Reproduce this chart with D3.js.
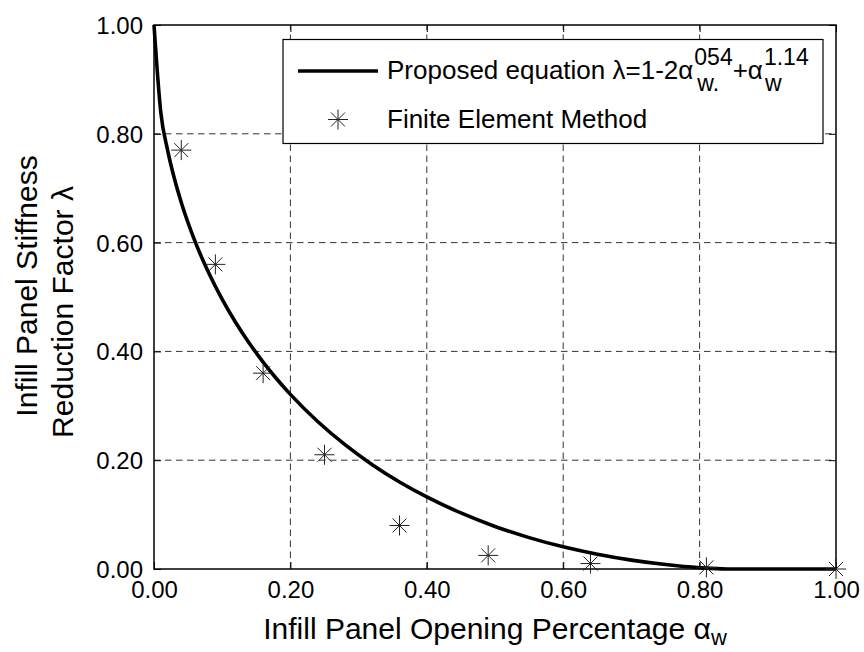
<!DOCTYPE html>
<html>
<head>
<meta charset="utf-8">
<script src="https://cdn.jsdelivr.net/npm/d3@7"></script>
<style>
  body { margin: 0; background: #fff; }
  svg { display: block; }
  text { font-family: Arial, "Liberation Sans", Helvetica, sans-serif; fill: #000; }
</style>
</head>
<body>
<svg id="chart" width="864" height="652"></svg>
<script>
// Proposed equation, sampled along the opening percentage (clamped at zero)
const alphaCurve  = [0, 0.01, 0.02, 0.03, 0.04, 0.06, 0.08, 0.10, 0.12, 0.14, 0.16, 0.18, 0.20,
                     0.24, 0.28, 0.32, 0.36, 0.40, 0.45, 0.50, 0.55, 0.60, 0.65, 0.70, 0.75,
                     0.80, 0.84, 0.90, 1.00];
const lambdaCurve = [1.0000, 0.8389, 0.7697, 0.7173, 0.6738, 0.6027, 0.5449, 0.4956, 0.4527, 0.4146, 0.3804, 0.3493, 0.3210,
                     0.2711, 0.2285, 0.1918, 0.1600, 0.1325, 0.1030, 0.0782, 0.0577, 0.0407, 0.0271, 0.0163, 0.0082,
                     0.0024, 0.0000, 0.0000, 0.0000];

// Finite element results
const alphaFem  = [0.04, 0.09, 0.16, 0.25, 0.36, 0.49, 0.64, 0.81, 1.00];
const lambdaFem = [0.77, 0.56, 0.36, 0.21, 0.08, 0.025, 0.01, 0.003, 0.00];

const xTicks = [0, 0.2, 0.4, 0.6, 0.8, 1.0];
const yTicks = [0, 0.2, 0.4, 0.6, 0.8, 1.0];

const svg = d3.select("#chart");
const L = 154, R = 836, T = 25, B = 569;

const x = d3.scaleLinear().domain([0, 1]).range([L, R]);
const y = d3.scaleLinear().domain([0, 1]).range([B, T]);

// grid
const grid = svg.append("g").attr("stroke", "#333").attr("stroke-width", 1)
  .attr("stroke-dasharray", "6.5,4.5").attr("fill", "none");
xTicks.slice(1, -1).forEach(t => {
  grid.append("line").attr("x1", x(t)).attr("x2", x(t)).attr("y1", B).attr("y2", T);
});
yTicks.slice(1, -1).forEach(t => {
  grid.append("line").attr("x1", L).attr("x2", R).attr("y1", y(t)).attr("y2", y(t));
});

// axes with inward ticks on all four sides
const tickLen = 7;
const fmt = d3.format(".2f");
const axB = svg.append("g").attr("transform", `translate(0,${B})`)
  .call(d3.axisBottom(x).tickValues(xTicks).tickFormat(fmt).tickSizeInner(-tickLen).tickSizeOuter(0).tickPadding(12));
const axL = svg.append("g").attr("transform", `translate(${L},0)`)
  .call(d3.axisLeft(y).tickValues(yTicks).tickFormat(fmt).tickSizeInner(-tickLen).tickSizeOuter(0).tickPadding(11));
const axT = svg.append("g").attr("transform", `translate(0,${T})`)
  .call(d3.axisTop(x).tickValues(xTicks).tickFormat("").tickSizeInner(-tickLen).tickSizeOuter(0));
const axR = svg.append("g").attr("transform", `translate(${R},0)`)
  .call(d3.axisRight(y).tickValues(yTicks).tickFormat("").tickSizeInner(-tickLen).tickSizeOuter(0));

[axB, axL, axT, axR].forEach(a => {
  a.select(".domain").remove();
  a.selectAll(".tick line").attr("stroke", "#000").attr("stroke-width", 1);
  a.selectAll("text").attr("font-size", 24).attr("font-family", "Arial, 'Liberation Sans', sans-serif").attr("fill", "#000");
});
axB.selectAll("text").attr("dy", "0.71em");
axL.selectAll("text").attr("dy", "0.35em");

// frame
svg.append("rect").attr("x", L).attr("y", T).attr("width", R - L).attr("height", B - T)
  .attr("fill", "none").attr("stroke", "#000").attr("stroke-width", 1.5);

// proposed curve
const line = d3.line().x((d, i) => x(alphaCurve[i])).y(d => y(d)).curve(d3.curveMonotoneX);
svg.append("path").datum(lambdaCurve).attr("d", line)
  .attr("fill", "none").attr("stroke", "#000").attr("stroke-width", 3.6).attr("stroke-linejoin", "round");

// star marker
const starPath = "M-10,0H10M0,-10V10M-7,-7L7,7M-7,7L7,-7";
svg.append("g").selectAll("path").data(alphaFem).join("path")
  .attr("transform", (d, i) => `translate(${x(d)},${y(lambdaFem[i])})`)
  .attr("d", starPath).attr("fill", "none").attr("stroke", "#222").attr("stroke-width", 1);

// legend
const lg = { x: 283, y: 39.5, w: 540, h: 104 };
const leg = svg.append("g");
leg.append("rect").attr("x", lg.x).attr("y", lg.y).attr("width", lg.w).attr("height", lg.h)
  .attr("fill", "#fff").attr("stroke", "#000").attr("stroke-width", 1.2);
leg.append("line").attr("x1", 298).attr("x2", 378).attr("y1", 71).attr("y2", 71)
  .attr("stroke", "#000").attr("stroke-width", 3.6);
leg.append("path").attr("transform", "translate(338,119.5)").attr("d", starPath)
  .attr("fill", "none").attr("stroke", "#222").attr("stroke-width", 1);

const fs = 26, fsSmall = 23;
let cx = 387;
const base1 = 79;
function put(str, xx, yy, size) {
  const t = leg.append("text").attr("x", xx).attr("y", yy).attr("font-size", size).text(str);
  return t.node().getComputedTextLength();
}
cx += put("Proposed equation \u03bb=1-2\u03b1", cx, base1, fs) + 1;
const w1 = put("054", cx, base1 - 14, fsSmall);
const w2 = put("w.", cx + 3, base1 + 12, fsSmall);
cx += Math.max(w1, w2 + 3);
cx += put("+\u03b1", cx, base1, fs) + 1;
put("1.14", cx, base1 - 14, fsSmall);
put("w", cx + 1, base1 + 12, fsSmall);
leg.append("text").attr("x", 387).attr("y", 128).attr("font-size", fs).text("Finite Element Method");

// axis titles
const xl = svg.append("text").attr("x", (L + R) / 2).attr("y", 639).attr("text-anchor", "middle")
  .attr("font-size", 30);
xl.append("tspan").text("Infill Panel Opening Percentage \u03b1");
xl.append("tspan").attr("font-size", 22).attr("dy", 6).text("w");

svg.append("text").attr("transform", "translate(37,286) rotate(-90)").attr("text-anchor", "middle")
  .attr("font-size", 30).text("Infill Panel Stiffness");
svg.append("text").attr("transform", "translate(73,312) rotate(-90)").attr("text-anchor", "middle")
  .attr("font-size", 30).text("Reduction Factor \u03bb");
</script>
</body>
</html>
